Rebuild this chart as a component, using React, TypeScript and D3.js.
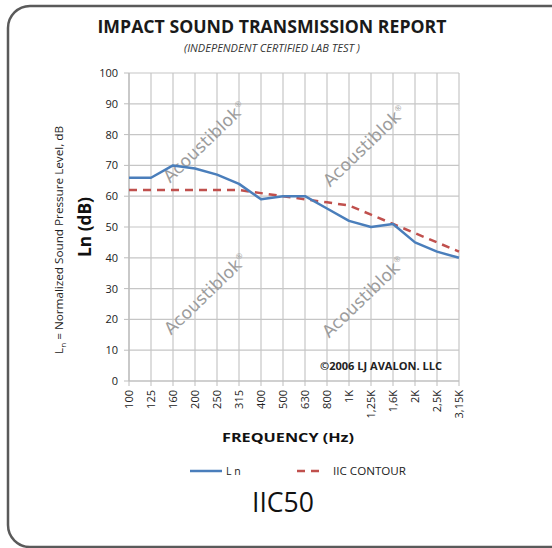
import React from "react";
import * as d3 from "d3";

const categories = ["100","125","160","200","250","315","400","500","630","800","1K","1,25K","1,6K","2K","2,5K","3,15K"];
const lnValues = [66,66,70,69,67,64,59,60,60,56,52,50,51,45,42,40];
const iicValues = [62,62,62,62,62,62,61,60,59,58,57,54,51,48,45,42];
const yTicks = [0,10,20,30,40,50,60,70,80,90,100];
const watermarks = [
  { x: 209, y: 146 },
  { x: 369, y: 150 },
  { x: 210, y: 298 },
  { x: 368, y: 301 },
];

const W = 552, H = 548;
const left = 129, right = 459, top = 73, bottom = 381;
const FONT = "'Open Sans', 'DejaVu Sans', sans-serif";

export default function App() {
  const x = d3.scalePoint<string>().domain(categories).range([left, right]);
  const y = d3.scaleLinear().domain([0, 100]).range([bottom, top]);
  const line = d3.line<number>().x((_, i) => x(categories[i])!).y((d) => y(d));

  return (
    <svg width={W} height={H} style={{ position: "absolute", left: 0, top: 0, background: "#fff" }} fontFamily={FONT}>
      <rect x={8} y={6} width={W + 20} height={H - 7} rx={22} ry={22} fill="#fff" stroke="#5a5a5a" strokeWidth={2.5} />
      <text x={272} y={33} textAnchor="middle" fontSize={17} fontWeight="bold" fill="#1a1a1a" textLength={349} lengthAdjust="spacingAndGlyphs">IMPACT SOUND TRANSMISSION REPORT</text>
      <text x={272} y={52} textAnchor="middle" fontSize={10} fontStyle="italic" fill="#333" textLength={176} lengthAdjust="spacingAndGlyphs">(INDEPENDENT CERTIFIED LAB TEST )</text>

      {/* grid */}
      {yTicks.map((t) => (
        <line key={"h" + t} x1={left} x2={right} y1={y(t)} y2={y(t)} stroke="#c6c6c6" strokeWidth={1.2} />
      ))}
      {categories.map((c) => (
        <line key={"v" + c} x1={x(c)} x2={x(c)} y1={top} y2={bottom} stroke="#c6c6c6" strokeWidth={1.2} />
      ))}
      {/* axes */}
      <line x1={left} x2={left} y1={top} y2={bottom} stroke="#bdbdbd" strokeWidth={1.2} />
      <line x1={left} x2={right} y1={bottom} y2={bottom} stroke="#bdbdbd" strokeWidth={1.2} />
      {yTicks.map((t) => (
        <g key={"yt" + t}>
          <line x1={left - 5} x2={left} y1={y(t)} y2={y(t)} stroke="#bdbdbd" />
          <text x={left - 11} y={y(t) + 4} textAnchor="end" fontSize={11} fill="#222">{t}</text>
        </g>
      ))}
      {categories.map((c) => (
        <g key={"xt" + c}>
          <line x1={x(c)} x2={x(c)} y1={bottom} y2={bottom + 5} stroke="#bdbdbd" />
          <text transform={`translate(${x(c)! + 4},${bottom + 9}) rotate(-90)`} textAnchor="end" fontSize={11} fill="#222">{c}</text>
        </g>
      ))}

      {/* watermarks */}
      {watermarks.map((w, i) => (
        <text key={"w" + i} transform={`translate(${w.x},${w.y}) rotate(-44)`} textAnchor="middle" fontSize={17} fill="#9c9c9c" fontFamily="'DejaVu Sans', sans-serif" letterSpacing={0.2}>
          Acoustiblok<tspan fontSize={8} dy={-7}>®</tspan>
        </text>
      ))}

      {/* lines */}
      <path d={line(iicValues)!} fill="none" stroke="#c0504d" strokeWidth={2.5} strokeDasharray="8,6" />
      <path d={line(lnValues)!} fill="none" stroke="#4a7ebb" strokeWidth={2.5} strokeLinejoin="round" />

      <text x={381} y={370} textAnchor="middle" fontSize={10} fontWeight="bold" fill="#222" textLength={122} lengthAdjust="spacingAndGlyphs">©2006 LJ AVALON. LLC</text>

      {/* y labels */}
      <text transform="translate(91,227) rotate(-90)" textAnchor="middle" fontSize={17} fontWeight="bold" fill="#111" textLength={60} lengthAdjust="spacingAndGlyphs">Ln (dB)</text>
      <text transform="translate(63,240) rotate(-90)" textAnchor="middle" fontSize={10} fill="#222" textLength={228} lengthAdjust="spacingAndGlyphs">
        L<tspan fontSize={7} dy={3}>n</tspan><tspan dy={-3}> = Normalized  Sound Pressure Level, dB</tspan>
      </text>

      <text x={288} y={442} textAnchor="middle" fontSize={13} fontWeight="bold" fill="#111" textLength={132} lengthAdjust="spacingAndGlyphs">FREQUENCY (Hz)</text>

      {/* legend */}
      <line x1={190} x2={222} y1={471} y2={471} stroke="#4a7ebb" strokeWidth={2.5} />
      <text x={226} y={475} fontSize={10.5} fill="#222">L n</text>
      <line x1={297} x2={325} y1={471} y2={471} stroke="#c0504d" strokeWidth={2.5} strokeDasharray="8,6" />
      <text x={333} y={475} fontSize={10.5} fill="#222" textLength={73} lengthAdjust="spacingAndGlyphs">IIC CONTOUR</text>

      <text x={283} y={512} textAnchor="middle" fontSize={27} fill="#111" fontWeight="500" textLength={62} lengthAdjust="spacingAndGlyphs">IIC50</text>
    </svg>
  );
}
